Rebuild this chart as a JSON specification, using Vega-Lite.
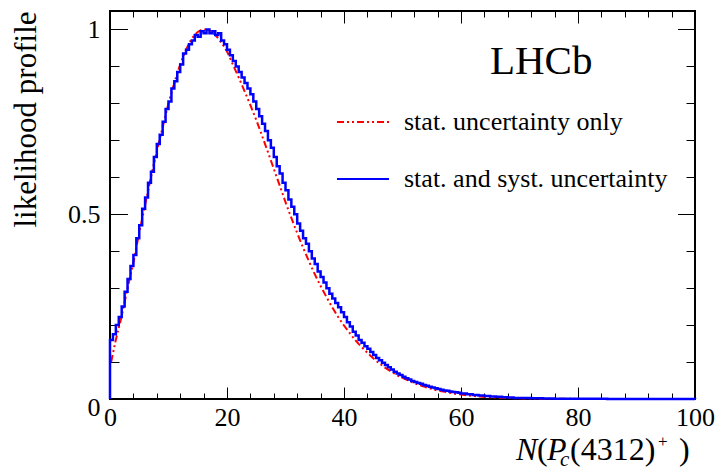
{
  "$schema": "https://vega.github.io/schema/vega-lite/v6.json",
  "width": 585,
  "height": 388,
  "autosize": "none",
  "padding": {"left": 110, "top": 11, "right": 25, "bottom": 76},
  "background": "white",
  "config": {
    "view": {"stroke": "black", "strokeWidth": 2},
    "font": "Liberation Serif",
    "axis": {"domain": false, "grid": false, "labelFont": "Liberation Serif", "labelFontSize": 26, "labelColor": "black", "tickColor": "black", "tickWidth": 1, "labelFlush": false, "labelOverlap": false, "labelBound": false, "titleFont": "Liberation Serif", "titleFontWeight": "normal", "titleColor": "black"},
    "legend": {"labelFont": "Liberation Serif", "labelFontSize": 26, "labelColor": "black", "labelLimit": 0}
  },
  "datasets": {
    "blue": [
      {"n": 0, "p": 0}, {"n": 0, "p": 0.16}, {"n": 0.5, "p": 0.175}, {"n": 1, "p": 0.2}, {"n": 1.5, "p": 0.222}, {"n": 2, "p": 0.25}, {"n": 2.5, "p": 0.29}, {"n": 3, "p": 0.325}, {"n": 3.5, "p": 0.36}, {"n": 4, "p": 0.39}, {"n": 4.5, "p": 0.435}, {"n": 5, "p": 0.47}, {"n": 5.5, "p": 0.515}, {"n": 6, "p": 0.545}, {"n": 6.5, "p": 0.585}, {"n": 7, "p": 0.615}, {"n": 7.5, "p": 0.655}, {"n": 8, "p": 0.69}, {"n": 8.5, "p": 0.715}, {"n": 9, "p": 0.75}, {"n": 9.5, "p": 0.785}, {"n": 10, "p": 0.805}, {"n": 10.5, "p": 0.84}, {"n": 11, "p": 0.86}, {"n": 11.5, "p": 0.885}, {"n": 12, "p": 0.905}, {"n": 12.5, "p": 0.935}, {"n": 13, "p": 0.945}, {"n": 13.5, "p": 0.96}, {"n": 14, "p": 0.97}, {"n": 14.5, "p": 0.985}, {"n": 15, "p": 0.98}, {"n": 15.5, "p": 0.995}, {"n": 16, "p": 0.99}, {"n": 16.5, "p": 1.0}, {"n": 17, "p": 0.99}, {"n": 17.5, "p": 0.995}, {"n": 18, "p": 0.985}, {"n": 18.5, "p": 0.99}, {"n": 19, "p": 0.97}, {"n": 19.5, "p": 0.96}, {"n": 20, "p": 0.945}, {"n": 20.5, "p": 0.93}, {"n": 21, "p": 0.915}, {"n": 21.5, "p": 0.9}, {"n": 22, "p": 0.885}, {"n": 22.5, "p": 0.87}, {"n": 23, "p": 0.855}, {"n": 23.5, "p": 0.84}, {"n": 24, "p": 0.825}, {"n": 24.5, "p": 0.805}, {"n": 25, "p": 0.785}, {"n": 25.5, "p": 0.765}, {"n": 26, "p": 0.745}, {"n": 26.5, "p": 0.725}, {"n": 27, "p": 0.7}, {"n": 27.5, "p": 0.68}, {"n": 28, "p": 0.655}, {"n": 28.5, "p": 0.63}, {"n": 29, "p": 0.61}, {"n": 29.5, "p": 0.585}, {"n": 30, "p": 0.565}, {"n": 30.5, "p": 0.54}, {"n": 31, "p": 0.52}, {"n": 31.5, "p": 0.5}, {"n": 32, "p": 0.475}, {"n": 32.5, "p": 0.455}, {"n": 33, "p": 0.435}, {"n": 33.5, "p": 0.42}, {"n": 34, "p": 0.4}, {"n": 34.5, "p": 0.38}, {"n": 35, "p": 0.365}, {"n": 35.5, "p": 0.345}, {"n": 36, "p": 0.33}, {"n": 36.5, "p": 0.315}, {"n": 37, "p": 0.3}, {"n": 37.5, "p": 0.285}, {"n": 38, "p": 0.272}, {"n": 38.5, "p": 0.26}, {"n": 39, "p": 0.248}, {"n": 39.5, "p": 0.235}, {"n": 40, "p": 0.222}, {"n": 40.5, "p": 0.208}, {"n": 41, "p": 0.196}, {"n": 41.5, "p": 0.182}, {"n": 42, "p": 0.172}, {"n": 42.5, "p": 0.16}, {"n": 43, "p": 0.152}, {"n": 43.5, "p": 0.143}, {"n": 44, "p": 0.136}, {"n": 44.5, "p": 0.127}, {"n": 45, "p": 0.119}, {"n": 45.5, "p": 0.111}, {"n": 46, "p": 0.105}, {"n": 46.5, "p": 0.098}, {"n": 47, "p": 0.092}, {"n": 47.5, "p": 0.086}, {"n": 48, "p": 0.08}, {"n": 48.5, "p": 0.074}, {"n": 49, "p": 0.069}, {"n": 49.5, "p": 0.065}, {"n": 50, "p": 0.06}, {"n": 50.5, "p": 0.056}, {"n": 51, "p": 0.053}, {"n": 51.5, "p": 0.049}, {"n": 52, "p": 0.046}, {"n": 52.5, "p": 0.043}, {"n": 53, "p": 0.041}, {"n": 53.5, "p": 0.038}, {"n": 54, "p": 0.036}, {"n": 54.5, "p": 0.033}, {"n": 55, "p": 0.031}, {"n": 55.5, "p": 0.029}, {"n": 56, "p": 0.027}, {"n": 56.5, "p": 0.025}, {"n": 57, "p": 0.023}, {"n": 57.5, "p": 0.022}, {"n": 58, "p": 0.02}, {"n": 58.5, "p": 0.019}, {"n": 59, "p": 0.018}, {"n": 59.5, "p": 0.017}, {"n": 60, "p": 0.015}, {"n": 61, "p": 0.013}, {"n": 62, "p": 0.011}, {"n": 63, "p": 0.0095}, {"n": 64, "p": 0.008}, {"n": 65, "p": 0.007}, {"n": 66, "p": 0.006}, {"n": 67, "p": 0.005}, {"n": 68, "p": 0.004}, {"n": 69, "p": 0.003}, {"n": 70, "p": 0.0025}, {"n": 72, "p": 0.002}, {"n": 74, "p": 0.0015}, {"n": 76, "p": 0.001}, {"n": 78, "p": 0.0008}, {"n": 80, "p": 0.0005}, {"n": 85, "p": 0.0003}, {"n": 90, "p": 0.0001}, {"n": 95, "p": 0.0001}, {"n": 100, "p": 0}
    ],
    "red": [
      {"n": 0.2, "p": 0.1}, {"n": 1, "p": 0.16}, {"n": 2, "p": 0.225}, {"n": 3, "p": 0.3}, {"n": 4, "p": 0.37}, {"n": 5, "p": 0.45}, {"n": 6, "p": 0.525}, {"n": 7, "p": 0.6}, {"n": 8, "p": 0.67}, {"n": 9, "p": 0.735}, {"n": 10, "p": 0.8}, {"n": 11, "p": 0.855}, {"n": 12, "p": 0.905}, {"n": 13, "p": 0.945}, {"n": 14, "p": 0.975}, {"n": 15, "p": 0.993}, {"n": 16, "p": 1.0}, {"n": 17, "p": 0.997}, {"n": 18, "p": 0.985}, {"n": 19, "p": 0.965}, {"n": 20, "p": 0.94}, {"n": 21, "p": 0.905}, {"n": 22, "p": 0.87}, {"n": 23, "p": 0.833}, {"n": 24, "p": 0.795}, {"n": 25, "p": 0.755}, {"n": 26, "p": 0.712}, {"n": 27, "p": 0.668}, {"n": 28, "p": 0.623}, {"n": 29, "p": 0.578}, {"n": 30, "p": 0.533}, {"n": 31, "p": 0.49}, {"n": 32, "p": 0.449}, {"n": 33, "p": 0.41}, {"n": 34, "p": 0.373}, {"n": 35, "p": 0.338}, {"n": 36, "p": 0.306}, {"n": 37, "p": 0.276}, {"n": 38, "p": 0.248}, {"n": 39, "p": 0.222}, {"n": 40, "p": 0.199}, {"n": 41, "p": 0.178}, {"n": 42, "p": 0.158}, {"n": 43, "p": 0.141}, {"n": 44, "p": 0.125}, {"n": 45, "p": 0.11}, {"n": 46, "p": 0.097}, {"n": 47, "p": 0.085}, {"n": 48, "p": 0.075}, {"n": 49, "p": 0.065}, {"n": 50, "p": 0.057}, {"n": 51, "p": 0.05}, {"n": 52, "p": 0.043}, {"n": 53, "p": 0.037}, {"n": 54, "p": 0.032}, {"n": 55, "p": 0.027}, {"n": 56, "p": 0.023}, {"n": 57, "p": 0.02}, {"n": 58, "p": 0.017}, {"n": 59, "p": 0.014}, {"n": 60, "p": 0.012}, {"n": 61, "p": 0.01}, {"n": 62, "p": 0.0085}, {"n": 63, "p": 0.007}, {"n": 64, "p": 0.006}, {"n": 65, "p": 0.005}, {"n": 66, "p": 0.004}, {"n": 67, "p": 0.0033}, {"n": 68, "p": 0.0027}, {"n": 69, "p": 0.0022}, {"n": 70, "p": 0.0018}, {"n": 72, "p": 0.0012}, {"n": 75, "p": 0.0007}, {"n": 80, "p": 0.0003}, {"n": 85, "p": 0.0001}, {"n": 90, "p": 0.00005}, {"n": 100, "p": 0}
    ],
    "one": [{}]
  },
  "resolve": {"axis": {"x": "independent", "y": "independent"}},
  "layer": [
    {
      "data": {"name": "red"},
      "transform": [{"calculate": "'stat. uncertainty only'", "as": "series"}],
      "mark": {"type": "line", "strokeWidth": 2, "interpolate": "monotone"},
      "encoding": {
        "x": {"field": "n", "type": "quantitative", "scale": {"domain": [0, 100], "nice": false, "zero": false},
          "axis": {"orient": "bottom", "values": [0, 4, 8, 12, 16, 20, 24, 28, 32, 36, 40, 44, 48, 52, 56, 60, 64, 68, 72, 76, 80, 84, 88, 92, 96, 100],
            "tickSize": {"condition": {"test": "datum.value % 20 === 0", "value": -12}, "value": -6},
            "labelExpr": "datum.value % 20 === 0 ? '' + datum.value : ''", "labelPadding": 17, "title": null}},
        "y": {"field": "p", "type": "quantitative", "scale": {"domain": [0, 1.05], "nice": false, "zero": false},
          "axis": {"orient": "left", "values": [0, 0.1, 0.2, 0.3, 0.4, 0.5, 0.6, 0.7, 0.8, 0.9, 1],
            "tickSize": {"condition": {"test": "datum.value === 0 || datum.value === 0.5 || datum.value === 1", "value": -17.5}, "value": -9},
            "labelExpr": "datum.value === 0 ? '0' : datum.value === 0.5 ? '0.5' : datum.value === 1 ? '1' : ''",
            "labelOffset": {"condition": {"test": "datum.value === 0", "value": 8}, "value": 0},
            "labelPadding": 27.5, "title": "likelihood profile", "titleFontSize": 31, "titleAnchor": "end", "titlePadding": 25}},
        "color": {"field": "series", "type": "nominal",
          "scale": {"domain": ["stat. uncertainty only", "stat. and syst. uncertainty"], "range": ["#ff0000", "#0000ff"]},
          "legend": {"orient": "none", "legendX": 226, "legendY": 84, "title": null, "symbolType": "stroke", "symbolSize": 2704, "symbolStrokeWidth": 2, "labelOffset": 14, "rowPadding": 17, "padding": 0}},
        "strokeDash": {"field": "series", "type": "nominal",
          "scale": {"domain": ["stat. uncertainty only", "stat. and syst. uncertainty"], "range": [[7, 3, 2, 3, 2, 3], [1, 0]]},
          "legend": {"orient": "none", "legendX": 226, "legendY": 84, "title": null, "symbolType": "stroke", "symbolSize": 2704, "symbolStrokeWidth": 2, "labelOffset": 14, "rowPadding": 17, "padding": 0}}
      }
    },
    {
      "data": {"name": "blue"},
      "transform": [{"calculate": "'stat. and syst. uncertainty'", "as": "series"}],
      "mark": {"type": "line", "strokeWidth": 2.5, "interpolate": "step-after"},
      "encoding": {
        "x": {"field": "n", "type": "quantitative", "axis": null},
        "y": {"field": "p", "type": "quantitative", "axis": null},
        "color": {"field": "series", "type": "nominal"},
        "strokeDash": {"field": "series", "type": "nominal"}
      }
    },
    {
      "data": {"name": "one"},
      "mark": {"type": "text", "text": "LHCb", "fontSize": 41, "font": "Liberation Serif", "align": "center", "baseline": "alphabetic", "color": "black"},
      "encoding": {
        "x": {"datum": 73.7, "type": "quantitative",
          "axis": {"orient": "top", "values": [0, 4, 8, 12, 16, 20, 24, 28, 32, 36, 40, 44, 48, 52, 56, 60, 64, 68, 72, 76, 80, 84, 88, 92, 96, 100],
            "tickSize": {"condition": {"test": "datum.value % 20 === 0", "value": -12}, "value": -6},
            "labels": false, "title": null}},
        "y": {"datum": 0.88, "type": "quantitative",
          "axis": {"orient": "right", "values": [0, 0.1, 0.2, 0.3, 0.4, 0.5, 0.6, 0.7, 0.8, 0.9, 1],
            "tickSize": {"condition": {"test": "datum.value === 0 || datum.value === 0.5 || datum.value === 1", "value": -17.5}, "value": -9},
            "labels": false, "title": null}}
      }
    },
    {
      "data": {"name": "one"},
      "mark": {"type": "text", "text": "N", "fontSize": 32, "fontStyle": "italic", "font": "Liberation Serif", "align": "left", "baseline": "alphabetic", "dx": -179, "color": "black"},
      "encoding": {"x": {"datum": 100, "type": "quantitative", "axis": null}, "y": {"datum": -0.165, "type": "quantitative", "axis": null}}
    },
    {
      "data": {"name": "one"},
      "mark": {"type": "text", "text": "(", "fontSize": 32, "font": "Liberation Serif", "align": "left", "baseline": "alphabetic", "dx": -158, "color": "black"},
      "encoding": {"x": {"datum": 100, "type": "quantitative", "axis": null}, "y": {"datum": -0.165, "type": "quantitative", "axis": null}}
    },
    {
      "data": {"name": "one"},
      "mark": {"type": "text", "text": "P", "fontSize": 32, "fontStyle": "italic", "font": "Liberation Serif", "align": "left", "baseline": "alphabetic", "dx": -148, "color": "black"},
      "encoding": {"x": {"datum": 100, "type": "quantitative", "axis": null}, "y": {"datum": -0.165, "type": "quantitative", "axis": null}}
    },
    {
      "data": {"name": "one"},
      "mark": {"type": "text", "text": "c", "fontSize": 21, "fontStyle": "italic", "font": "Liberation Serif", "align": "left", "baseline": "alphabetic", "dx": -135, "dy": 6, "color": "black"},
      "encoding": {"x": {"datum": 100, "type": "quantitative", "axis": null}, "y": {"datum": -0.165, "type": "quantitative", "axis": null}}
    },
    {
      "data": {"name": "one"},
      "mark": {"type": "text", "text": "(4312)", "fontSize": 32, "font": "Liberation Serif", "align": "left", "baseline": "alphabetic", "dx": -125, "color": "black"},
      "encoding": {"x": {"datum": 100, "type": "quantitative", "axis": null}, "y": {"datum": -0.165, "type": "quantitative", "axis": null}}
    },
    {
      "data": {"name": "one"},
      "mark": {"type": "text", "text": "+", "fontSize": 17, "font": "Liberation Serif", "align": "left", "baseline": "alphabetic", "dx": -37, "dy": -13, "color": "black"},
      "encoding": {"x": {"datum": 100, "type": "quantitative", "axis": null}, "y": {"datum": -0.165, "type": "quantitative", "axis": null}}
    },
    {
      "data": {"name": "one"},
      "mark": {"type": "text", "text": ")", "fontSize": 32, "font": "Liberation Serif", "align": "left", "baseline": "alphabetic", "dx": -16, "color": "black"},
      "encoding": {"x": {"datum": 100, "type": "quantitative", "axis": null}, "y": {"datum": -0.165, "type": "quantitative", "axis": null}}
    }
  ]
}
